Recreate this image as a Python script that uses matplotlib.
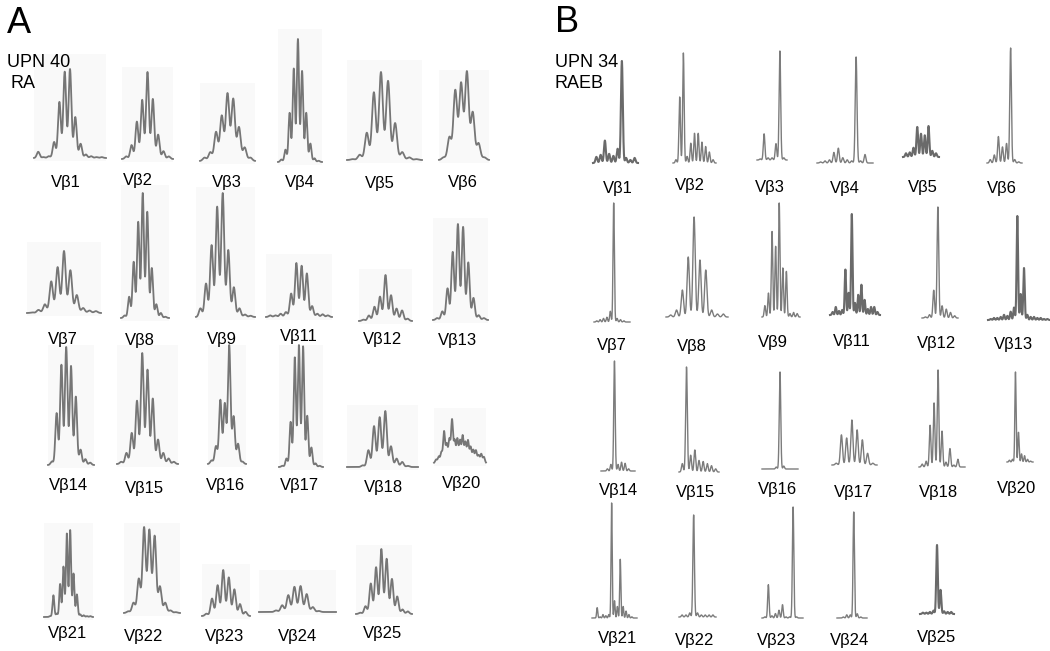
import numpy as np
import matplotlib
matplotlib.use('Agg')
import matplotlib.pyplot as plt
from matplotlib import font_manager
from matplotlib.patches import Rectangle

# ---- data: relative peak heights per V-beta family ----
names = ['Vβ1', 'Vβ2', 'Vβ3', 'Vβ4', 'Vβ5', 'Vβ6',
         'Vβ7', 'Vβ8', 'Vβ9', 'Vβ11', 'Vβ12', 'Vβ13',
         'Vβ14', 'Vβ15', 'Vβ16', 'Vβ17', 'Vβ18', 'Vβ20',
         'Vβ21', 'Vβ22', 'Vβ23', 'Vβ24', 'Vβ25']

# panel A: UPN 40, RA (polyclonal, gaussian-like)
a_peaks = [
    [0.07, 0.01, 0.02, 0.18, 0.63, 0.97, 1.0, 0.46, 0.16, 0.04, 0.02, 0.01, 0.01],
    [0.03, 0.16, 0.43, 0.68, 1.0, 0.69, 0.28, 0.09, 0.03],
    [0.05, 0.13, 0.43, 0.67, 1.0, 0.92, 0.5, 0.2, 0.05],
    [0.02, 0.1, 0.4, 0.76, 1.0, 0.74, 0.4, 0.15, 0.03, 0.01],
    [0.01, 0.06, 0.31, 0.77, 1.0, 0.9, 0.42, 0.09, 0.03, 0.01],
    [0.03, 0.26, 0.79, 0.87, 1.0, 0.54, 0.19, 0.03],
    [0.01, 0.05, 0.14, 0.51, 0.74, 1.0, 0.69, 0.29, 0.08, 0.04, 0.03],
    [0.02, 0.17, 0.45, 0.77, 1.0, 0.85, 0.4, 0.11, 0.04, 0.01],
    [0.07, 0.27, 0.58, 0.89, 1.0, 0.54, 0.24, 0.07, 0.02, 0.01],
    [0.03, 0.03, 0.06, 0.09, 0.43, 0.99, 0.94, 0.8, 0.2, 0.06, 0.05, 0.03],
    [0.03, 0.12, 0.31, 0.53, 1.0, 0.56, 0.27, 0.23, 0.05],
    [0.02, 0.09, 0.33, 0.71, 1.0, 0.97, 0.6, 0.23, 0.05, 0.02],
    [0.03, 0.44, 0.85, 1.0, 0.84, 0.58, 0.13, 0.05, 0.02],
    [0.02, 0.1, 0.28, 0.57, 1.0, 0.85, 0.59, 0.22, 0.1, 0.05, 0.02],
    [0.03, 0.15, 0.54, 0.51, 1.0, 0.4, 0.17, 0.02],
    [0.01, 0.07, 0.37, 0.9, 1.0, 0.99, 0.42, 0.16, 0.03, 0.01],
    [0.0, 0.0, 0.03, 0.3, 0.73, 0.89, 1.0, 0.37, 0.15, 0.09, 0.02, 0.0],
    [0.08, 0.15, 0.25, 0.73, 0.44, 0.55, 1.0, 0.52, 0.56, 0.52, 0.63, 0.48, 0.52,
     0.37, 0.3, 0.29, 0.18, 0.21, 0.14],
    [0.0, 0.01, 0.25, 0.04, 0.38, 0.58, 0.96, 1.0, 0.5, 0.26, 0.03, 0.02, 0.01, 0.01],
    [0.02, 0.12, 0.4, 1.0, 0.97, 0.9, 0.31, 0.12, 0.03, 0.01],
    [0.05, 0.38, 0.67, 1.0, 0.84, 0.58, 0.26, 0.09],
    [0.0, 0.0, 0.06, 0.26, 0.65, 0.97, 1.0, 0.69, 0.19, 0.04, 0.0, 0.0],
    [0.02, 0.12, 0.47, 0.72, 1.0, 0.85, 0.54, 0.27, 0.07, 0.04],
]

# panel B: UPN 34, RAEB (oligoclonal, dominant peaks)
b_peaks = [
    [0.06, 0.08, 0.22, 0.09, 0.07, 0.14, 1.0, 0.05, 0.03, 0.05],
    [0.03, 0.6, 1.0, 0.06, 0.18, 0.27, 0.27, 0.19, 0.15, 0.1, 0.03],
    [0.01, 0.24, 0.02, 0.02, 0.15, 1.0, 0.02],
    [0.01, 0.02, 0.03, 0.1, 0.14, 0.05, 0.03, 0.02, 1.0, 0.02, 0.08, 0.0],
    [0.12, 0.15, 0.3, 0.97, 0.75, 0.7, 1.0, 0.2, 0.12],
    [0.03, 0.07, 0.23, 0.14, 0.17, 1.0, 0.03, 0.01],
    [0.01, 0.02, 0.03, 0.04, 0.09, 1.0, 0.03, 0.02, 0.01, 0.0],
    [0.02, 0.07, 0.27, 0.6, 1.0, 0.57, 0.47, 0.07, 0.03, 0.03],
    [0.1, 0.21, 0.75, 0.62, 1.0, 0.43, 0.4, 0.03, 0.04, 0.03],
    [0.03, 0.08, 0.04, 0.05, 0.45, 0.22, 1.0, 0.12, 0.2, 0.3, 0.15, 0.06, 0.08, 0.08, 0.03],
    [0.01, 0.03, 0.25, 1.0, 0.11, 0.08, 0.05, 0.02],
    [0.01, 0.02, 0.02, 0.03, 0.05, 0.04, 0.08, 0.12, 1.0, 0.25, 0.5, 0.05, 0.03, 0.03, 0.02, 0.02, 0.01, 0.01],
    [0.0, 0.02, 0.06, 1.0, 0.06, 0.08, 0.07, 0.02, 0.0],
    [0.08, 1.0, 0.16, 0.21, 0.11, 0.1, 0.08, 0.06, 0.03],
    [0.0, 0.0, 0.0, 0.02, 1.0, 0.03, 0.0, 0.0, 0.0],
    [0.04, 0.67, 0.6, 1.0, 0.78, 0.56, 0.26, 0.04],
    [0.03, 0.06, 0.43, 0.66, 1.0, 0.37, 0.05, 0.19, 0.02, 0.08, 0.0],
    [0.02, 0.03, 1.0, 0.33, 0.09, 0.07, 0.03, 0.01],
    [0.0, 0.09, 0.01, 0.03, 0.02, 0.03, 1.0, 0.15, 0.1, 0.51, 0.1, 0.06, 0.03, 0.01, 0.0],
    [0.02, 0.02, 0.04, 1.0, 0.04, 0.02, 0.02, 0.02, 0.02],
    [0.01, 0.3, 0.02, 0.04, 0.07, 0.12, 0.01, 0.01, 1.0, 0.01, 0.0],
    [0.0, 0.01, 0.03, 0.03, 1.0, 0.04, 0.01, 0.0],
    [0.02, 0.02, 0.03, 0.05, 1.0, 0.35, 0.04, 0.03, 0.03],
]

# ---- layout in pixels: trace left, right, peak top, baseline, label x, label baseline ----
a_boxes = [
    (34, 106, 69, 158, 66, 187), (122, 173, 72, 159, 138, 185), (200, 255, 93, 161, 227, 187),
    (278, 322, 39, 162, 300, 187), (347, 422, 72, 160, 380, 188), (439, 489, 71, 160, 463, 187),
    (27, 101, 251, 313, 63, 344), (121, 169, 193, 318, 140, 345), (196, 255, 193, 317, 222, 344),
    (266, 332, 263, 317, 299, 341), (359, 412, 275, 321, 383, 344), (433, 488, 224, 320, 457, 345),
    (48, 94, 347, 465, 68, 490), (117, 178, 353, 464, 144, 493), (208, 246, 345, 464, 225, 490),
    (279, 323, 345, 467, 299, 490), (347, 418, 411, 467, 383, 492), (434, 486, 419, 463, 462, 488),
    (44, 93, 530, 617, 68, 638), (124, 180, 527, 613, 144, 641), (202, 250, 570, 616, 225, 641),
    (259, 336, 586, 612, 298, 641), (356, 412, 549, 614, 383, 638),
]
a_bg_top = [54, 67, 83, 29, 60, 70, 242, 185, 187, 254, 269, 218,
            345, 345, 345, 345, 405, 408, 523, 523, 564, 570, 545]

b_boxes = [
    (593, 638, 61, 163, 618, 193), (673, 716, 53, 163, 690, 190), (757, 787, 51, 160, 770, 192),
    (817, 873, 57, 163, 845, 193), (903, 939, 126, 157, 923, 192), (987, 1022, 48, 163, 1002, 193),
    (594, 630, 203, 322, 612, 350), (666, 728, 217, 317, 692, 351), (762, 800, 203, 317, 773, 347),
    (830, 880, 214, 315, 852, 346), (922, 958, 207, 318, 937, 348), (988, 1050, 216, 320, 1013, 349),
    (601, 635, 361, 471, 618, 495), (679, 719, 367, 472, 695, 497), (762, 798, 372, 469, 777, 494),
    (832, 877, 420, 465, 853, 497), (919, 965, 370, 467, 938, 497), (1007, 1033, 372, 462, 1017, 493),
    (592, 637, 503, 618, 618, 643), (679, 716, 515, 617, 695, 645), (762, 803, 507, 618, 777, 645),
    (837, 867, 512, 618, 850, 645), (920, 954, 545, 614, 937, 642),
]

a_sigma = {'Vβ3': 0.31, 'Vβ6': 0.32, 'Vβ16': 0.3, 'Vβ20': 0.36, 'Vβ22': 0.3}
b_thick = ['Vβ1', 'Vβ5', 'Vβ11', 'Vβ13', 'Vβ25']

W, H = 1050, 651


def pick(fams):
    for f in fams:
        try:
            font_manager.findfont(f, fallback_to_default=False)
            return f
        except ValueError:
            pass
    return 'DejaVu Sans'


narrow = pick(['Liberation Sans Narrow', 'Liberation Sans'])
regular = pick(['Liberation Sans', 'DejaVu Sans'])

fig = plt.figure(figsize=(W / 100, H / 100), dpi=100)
fig.patch.set_facecolor('white')


def trace(x0, x1, ytop, ybot, heights, sigma, color, lw):
    ax = fig.add_axes([x0 / W, 1 - ybot / H, (x1 - x0) / W, (ybot - ytop) / H], zorder=2)
    n = len(heights)
    xs = np.linspace(-0.8, n - 0.2, 800)
    ys = np.zeros_like(xs)
    for i, h in enumerate(heights):
        ys += h * np.exp(-(xs - i) ** 2 / (2 * sigma ** 2))
    ax.plot(xs, ys, color=color, lw=lw, clip_on=False)
    ax.set_xlim(-0.8, n - 0.2)
    ax.set_ylim(0, ys.max())
    ax.axis('off')
    return ax


# panel A
for name, pk, box, bg in zip(names, a_peaks, a_boxes, a_bg_top):
    x0, x1, yt, yb, lx, ly = box
    fig.patches.append(Rectangle((x0 / W, 1 - (yb + 3) / H), (x1 - x0) / W, (yb + 3 - bg) / H,
                                 transform=fig.transFigure, facecolor='#f9f9f9',
                                 edgecolor='none', zorder=-1))
    trace(x0, x1, yt, yb, pk, a_sigma.get(name, 0.27), '#767676', 1.3)
    fig.text(lx / W, 1 - ly / H, name, ha='center', va='baseline',
             fontsize=12, family=narrow)

# panel B
for name, pk, box in zip(names, b_peaks, b_boxes):
    x0, x1, yt, yb, lx, ly = box
    if name in b_thick:
        trace(x0, x1, yt, yb, pk, 0.22, '#6a6a6a', 1.5)
    else:
        trace(x0, x1, yt, yb, pk, 0.2, '#7c7c7c', 1.0)
    fig.text(lx / W, 1 - ly / H, name, ha='center', va='baseline',
             fontsize=12, family=narrow)

# panel letters and patient labels
fig.text(7 / W, 1 - 33 / H, 'A', fontsize=26, family=regular, va='baseline')
fig.text(7 / W, 1 - 67 / H, 'UPN 40', fontsize=13, family=narrow, va='baseline')
fig.text(10 / W, 1 - 88 / H, 'RA', fontsize=13, family=narrow, va='baseline')
fig.text(555 / W, 1 - 32 / H, 'B', fontsize=26, family=regular, va='baseline')
fig.text(555 / W, 1 - 67 / H, 'UPN 34', fontsize=13, family=narrow, va='baseline')
fig.text(555 / W, 1 - 88 / H, 'RAEB', fontsize=13, family=narrow, va='baseline')

fig.savefig('out.png', dpi=100, facecolor='white')
